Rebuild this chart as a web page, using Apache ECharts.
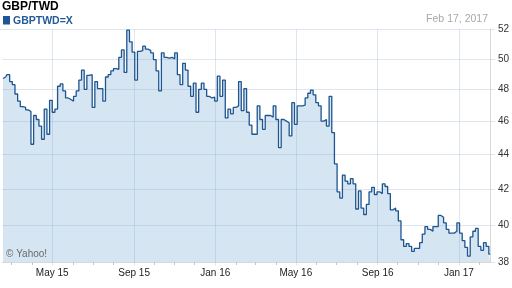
<!DOCTYPE html>
<html><head><meta charset="utf-8">
<script src="https://cdn.jsdelivr.net/npm/echarts@6/dist/echarts.min.js"></script>
<style>html,body{margin:0;padding:0;background:#fff}#c{width:512px;height:288px}</style>
</head><body><div id="c"></div>
<script>
// ---- data (GBP/TWD, sampled every 4 days from 16 Feb 2015) ----
const startDate = [2015, 1, 16];
const stepDays = 4;
const values = [
48.7,48.8,48.95,48.5,48.3,47.7,47.25,46.9,46.85,46.7,
46.6,44.6,46.35,46.1,45.7,44.9,46.75,45.2,47.3,46.55,
46.75,48.2,48.35,47.9,47.45,47.35,47.25,47.55,47.9,48.6,
49.25,48.0,48.9,48.95,46.85,48.5,48.05,48.05,47.25,48.8,
48.95,49.2,49.35,49.3,50.1,50.6,49.1,51.95,51.15,50.45,
48.6,50.5,50.55,50.85,50.65,50.55,50.4,49.95,49.2,47.9,
50.4,50.1,50.05,50.1,50.0,50.4,48.95,48.3,49.7,49.25,
48.2,47.55,48.4,46.55,48.0,48.4,48.0,47.55,47.45,47.5,
47.25,48.85,47.55,48.6,46.2,46.75,46.45,46.85,46.95,48.5,
46.65,48.05,46.55,45.75,45.2,45.2,46.95,46.1,45.5,46.35,
46.35,46.25,46.95,46.1,44.4,46.1,46.0,45.9,45.1,47.15,
45.8,46.95,46.95,47.0,47.45,47.75,47.95,47.65,47.15,46.95,
46.0,46.1,45.7,47.55,45.3,43.45,41.85,41.5,42.8,42.45,
42.3,42.6,42.3,40.9,41.9,40.95,40.6,41.15,41.85,42.1,
41.7,41.85,41.75,42.3,42.15,41.75,40.85,40.95,40.8,40.25,
39.25,38.9,39.05,38.9,38.65,38.8,38.8,39.1,39.55,39.95,
39.8,39.7,39.95,39.95,40.55,40.45,40.15,39.8,39.6,39.6,
39.7,40.15,39.6,39.2,38.85,38.4,39.4,39.7,39.85,38.9,
38.7,39.1,38.9,38.5
];
const yTicks = [38, 40, 42, 44, 46, 48, 50, 52];
const xLabelDates = ['2015-05-01', '2015-09-01', '2016-01-01', '2016-05-01', '2016-09-01', '2017-01-01'];
const xLabels = ['May 15', 'Sep 15', 'Jan 16', 'May 16', 'Sep 16', 'Jan 17'];
const xMinDate = '2015-02-14T12:00';
const xMaxDate = '2017-02-17T12:00';
const yMin = 38.1, yMax = 52;
const titleText = 'GBP/TWD';
const symbolText = 'GBPTWD=X';
const dateText = 'Feb 17, 2017';
const creditText = '\u00A9 Yahoo!';

// ---- layout ----
const PL = 2, PR = 490.5, PT = 29.5, PB = 262;
const FONT = 'Liberation Sans, Arial, sans-serif';

function ts(s) {
  const p = s.split(/[-T:]/).map(Number);
  return new Date(p[0], p[1] - 1, p[2], p[3] || 0, p[4] || 0).getTime();
}
const data = values.map((v, i) => [new Date(startDate[0], startDate[1], startDate[2] + stepDays * i).getTime(), v]);
const labelTs = xLabelDates.map(ts);
const monthTicks = [];
for (let k = 0; k < 24; k++) monthTicks.push(new Date(2015, 2 + k, 1).getTime());

const markData = [];
yTicks.forEach(v => {
  if (v > yMin) {
    const from = { name: String(v), x: v === yMax ? 0 : PL, yAxis: v };
    if (v === yMax) from.label = { padding: [9, 0, 0, 0] };
    markData.push([from, { x: PR + 4.5, yAxis: v }]);
  } else {
    markData.push([{ name: String(v), x: PR, yAxis: yMin, label: { padding: [0, 0, 8, 0] } }, { x: PR + 4.5, yAxis: yMin }]);
  }
});
// minor monthly ticks under the x axis
monthTicks.forEach(t => {
  if (labelTs.indexOf(t) < 0) {
    markData.push([{ name: '', xAxis: t, y: PB, label: { show: false }, lineStyle: { color: '#c8c8c8' } }, { xAxis: t, y: PB + 3 }]);
  }
});
// vertical grid lines with the x labels
labelTs.forEach((t, i) => {
  markData.push([{ name: xLabels[i], xAxis: t, y: PB + 3.5, label: { position: 'start', distance: 3, color: '#222' } }, { xAxis: t, y: PT }]);
});

const chart = echarts.init(document.getElementById('c'), null, { renderer: 'canvas' });
chart.setOption({
  animation: false,
  backgroundColor: '#fff',
  textStyle: { fontFamily: FONT },
  grid: { left: PL, top: PT, width: PR - PL, height: PB - PT, containLabel: false },
  xAxis: {
    type: 'time', min: ts(xMinDate), max: ts(xMaxDate),
    axisLine: { show: true, lineStyle: { color: '#d8d8d8', width: 1 } },
    axisTick: { show: false },
    axisLabel: { show: false },
    splitLine: { show: false }
  },
  yAxis: {
    type: 'log', logBase: 10, position: 'right', min: yMin, max: yMax,
    axisLine: { show: true, lineStyle: { color: '#d8d8d8' } },
    axisTick: { show: false }, axisLabel: { show: false }, splitLine: { show: false }
  },
  graphic: [
    { type: 'text', left: 2, top: 1, z: 100, style: { text: titleText, font: 'bold 12px ' + FONT, fill: '#000' } },
    { type: 'rect', z: 100, shape: { x: 3, y: 16, width: 7, height: 8.5 }, style: { fill: '#1f5499' } },
    { type: 'text', x: 13, y: 21, z: 100, style: { text: symbolText, font: 'bold 10.5px ' + FONT, fill: '#235a97', verticalAlign: 'middle' } },
    { type: 'text', x: 488, y: 19.5, z: 100, style: { text: dateText, font: '10.5px ' + FONT, fill: '#a8a8a8', align: 'right', verticalAlign: 'middle' } },
    { type: 'text', x: 6, y: 254, z: 100, style: { text: creditText, font: '10px ' + FONT, fill: '#6a6a6a', verticalAlign: 'middle' } }
  ],
  series: [
    {
      type: 'line', data: data, step: 'middle', symbol: 'none', silent: true, z: 1,
      lineStyle: { width: 0, opacity: 0 },
      areaStyle: { color: '#d5e5f1', opacity: 1 },
      markLine: {
        silent: true, symbol: 'none', z: 2, animation: false,
        lineStyle: { color: 'rgba(140,165,200,0.28)', width: 1, type: 'solid' },
        emphasis: { disabled: true },
        label: { show: true, position: 'end', distance: 3, color: '#333', fontSize: 10, fontFamily: FONT, formatter: p => p.name },
        data: markData
      }
    },
    {
      type: 'line', data: data, step: 'middle', symbol: 'none', silent: true, z: 3,
      lineStyle: { color: '#1d5590', width: 1.3 }
    }
  ]
});
</script></body></html>
